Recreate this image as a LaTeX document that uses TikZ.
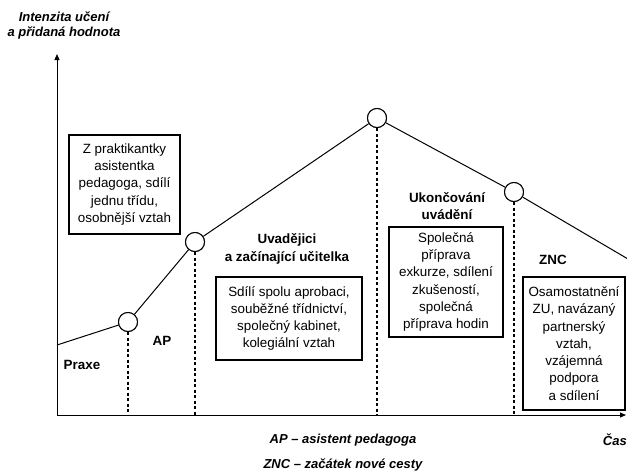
\documentclass[tikz,border=0pt]{standalone}
\usepackage{fontspec}
\setmainfont{Liberation Sans}
\usetikzlibrary{arrows.meta}
\begin{document}
\begin{tikzpicture}[x=1pt,y=-1pt,
  every node/.style={font=\fontsize{13.4}{17.3}\selectfont, inner sep=0pt},
  axis/.style={line width=1pt, -{Triangle[length=6pt,width=5pt]}},
  curve/.style={line width=1pt},
  knot/.style={circle, draw, fill=white, line width=1pt, minimum size=19pt},
  guide/.style={line width=1.3pt, dash pattern=on 3pt off 2.5pt},
  infobox/.style={line width=1.2pt},
  title/.style={font=\fontsize{13.4}{17.3}\selectfont\bfseries, align=center},
  axlabel/.style={font=\fontsize{13}{15}\selectfont\bfseries\itshape, align=center}]
\useasboundingbox (0,0) rectangle (627,472);
% axes
\coordinate (O) at (57,415);
\coordinate (ytop) at (57,54);
\coordinate (xend) at (626,415);
\draw[axis] (O) -- (ytop);
\draw[axis] (O) -- (xend);
\node[axlabel] (ylab) at (64,25) {Intenzita učení\\a přidaná hodnota};
\node[axlabel, anchor=east] (xlab) at (627,440) {Čas};
\node[axlabel] (leg1) at (343,440) {AP – asistent pedagoga};
\node[axlabel] (leg2) at (343,465) {ZNC – začátek nové cesty};
% curve points
\coordinate (s) at (57,345);
\node[knot] (k1) at (128,322) {};
\node[knot] (k2) at (195,242) {};
\node[knot] (k3) at (377,118) {};
\node[knot] (k4) at (514,192) {};
\coordinate (e) at (628,259);
% guides
\coordinate (g1) at (128,415);
\coordinate (g2) at (195,415);
\coordinate (g3) at (377,415);
\coordinate (g4) at (514,415);
\draw[guide] (k1) -- (g1);
\draw[guide] (k2) -- (g2);
\draw[guide] (k3) -- (g3);
\draw[guide] (k4) -- (g4);
\draw[curve] (s) -- (k1) -- (k2) -- (k3) -- (k4) -- (e);
\node[knot] at (k1) {};
\node[knot] at (k2) {};
\node[knot] at (k3) {};
\node[knot] at (k4) {};
% labels
\node[title] (praxe) at (82,365) {Praxe};
\node[title] (ap) at (162,341) {AP};
\node[title] (t2) at (287,249) {Uvadějici\\a začínající učitelka};
\node[title] (t3) at (447,206) {Ukončování\\uvádění};
\node[title] (t4) at (553,260) {ZNC};
% boxes
\draw[infobox] (69,135) rectangle (180,234);
\node[align=center] (b1) at (124.5,184.5) {Z praktikantky\\asistentka\\pedagoga, sdílí\\jednu třídu,\\osobnější vztah};
\draw[infobox] (216,277) rectangle (362,360);
\node[align=center] (b2) at (289,318.5) {Sdílí spolu aprobaci,\\souběžné třídnictví,\\společný kabinet,\\kolegiální vztah};
\draw[infobox] (389,227) rectangle (503,337);
\node[align=center] (b3) at (446,282) {Společná\\příprava\\exkurze, sdílení\\zkušeností,\\společná\\příprava hodin};
\draw[infobox] (523,277) rectangle (625,410);
\node[align=center] (b4) at (574,343.5) {Osamostatnění\\ZU, navázaný\\partnerský\\vztah,\\vzájemná\\podpora\\a sdílení};
\end{tikzpicture}
\end{document}
